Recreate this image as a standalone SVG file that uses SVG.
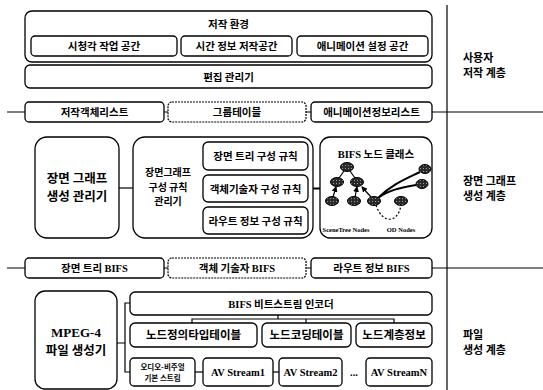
<svg xmlns="http://www.w3.org/2000/svg" width="543" height="390" viewBox="0 0 543 390">
<style>
  .b{fill:#fff;stroke:#000;stroke-width:1.3}
  .d{fill:#fff;stroke:#000;stroke-width:1.2;stroke-dasharray:2 1}
  .l{fill:none;stroke:#000;stroke-width:1.2}
  .k{font-family:"Noto Sans CJK KR","Noto Sans",sans-serif;font-weight:700;fill:#000;text-anchor:middle}
  .s{font-size:10.5px}
  .m{font-size:12.5px}
  .r{font-family:"Noto Sans CJK KR","Noto Sans",sans-serif;font-weight:700;font-size:11px;fill:#000}
  .e{font-family:"Liberation Serif",serif;font-weight:700}
  .n{fill:url(#hatch);stroke:#000;stroke-width:1}
</style>
<defs>
  <pattern id="hatch" width="3" height="3" patternUnits="userSpaceOnUse">
    <rect width="3" height="3" fill="#2a2a2a"/>
    <rect width="1" height="1" fill="#999"/>
  </pattern>
  <marker id="ar" viewBox="0 0 6 6" refX="5" refY="3" markerWidth="5" markerHeight="5" orient="auto">
    <path d="M0,0 L6,3 L0,6 z" fill="#000"/>
  </marker>
</defs>
<rect width="543" height="390" fill="#fff"/>

<g id="connectors">
  <line class="l" x1="447" y1="5" x2="447" y2="390"/>
  <line class="l" x1="7" y1="112" x2="543" y2="112"/>
  <line class="l" x1="7" y1="268" x2="543" y2="268"/>
  <line class="l" x1="119" y1="188" x2="133" y2="188"/>
  <path class="l" d="M308,156 H312 V221 H308 M308,188.5 H320" style="stroke-width:1.8"/>
  <path class="l" d="M117,343 H125 M130,303 H125 V372 H130"/>
  <path class="l" d="M278,315 V319 M192,323 V319 H394 V323 M306,319 V323"/>
  <line class="l" x1="195" y1="372" x2="203" y2="372"/>
  <line class="l" x1="273" y1="372" x2="279" y2="372"/>
</g>

<g id="authoring-env">
  <rect class="b" x="25" y="11" width="407" height="51" rx="7"/>
  <text class="k s" x="228.5" y="28">저작 환경</text>
</g>
<g id="av-workspace"><rect class="b" x="31" y="36" width="146" height="20" rx="4"/><text class="k s" x="104" y="50">시청각 작업 공간</text></g>
<g id="time-workspace"><rect class="b" x="181" y="36" width="111" height="20" rx="4"/><text class="k s" x="236.5" y="50">시간 정보 저작공간</text></g>
<g id="anim-workspace"><rect class="b" x="297" y="36" width="131" height="20" rx="4"/><text class="k s" x="362.5" y="50">애니메이션 설정 공간</text></g>
<g id="edit-manager"><rect class="b" x="25" y="65" width="407" height="23" rx="5"/><text class="k s" x="228.5" y="80.5">편집 관리기</text></g>

<g id="object-list"><rect class="b" x="25" y="102" width="139" height="20" rx="4"/><text class="k s" x="94.5" y="116">저작객체리스트</text></g>
<g id="group-table"><rect class="d" x="168" y="102" width="138" height="20" rx="4"/><text class="k s" x="237" y="116">그룹테이블</text></g>
<g id="anim-list"><rect class="b" x="311" y="102" width="121" height="20" rx="4"/><text class="k s" x="371.5" y="116">애니메이션정보리스트</text></g>

<g id="scene-graph-manager">
  <rect class="b" x="35" y="137" width="84" height="101" rx="12"/>
  <text class="k m" x="77" y="183">장면 그래프</text>
  <text class="k m" x="77" y="201">생성 관리기</text>
</g>
<g id="rule-manager">
  <rect class="b" x="133" y="137" width="180" height="101" rx="12"/>
  <text class="k" x="168" y="176" style="font-size:10px">장면그래프</text>
  <text class="k" x="168" y="190.5" style="font-size:10px">구성 규칙</text>
  <text class="k" x="168" y="205" style="font-size:10px">관리기</text>
</g>
<g id="rule-tree"><rect class="b" x="203" y="142" width="105" height="28" rx="5"/><text class="k s" x="255.5" y="160">장면 트리 구성 규칙</text></g>
<g id="rule-od"><rect class="b" x="203" y="175" width="105" height="27" rx="5"/><text class="k s" x="255.5" y="192.5">객체기술자 구성 규칙</text></g>
<g id="rule-route"><rect class="b" x="203" y="207" width="105" height="27" rx="5"/><text class="k s" x="255.5" y="224.5">라우트 정보 구성 규칙</text></g>

<g id="bifs-node-class">
  <rect class="b" x="320" y="137" width="112" height="101" rx="10"/>
  <text class="k" x="376" y="158" style="font-size:10.5px"><tspan class="e">BIFS</tspan> 노드 클래스</text>
  <path class="l" d="M344,171 L339,178 M350,171 L355,178"/>
  <line class="l" x1="333" y1="197" x2="336" y2="187" marker-end="url(#ar)"/>
  <line class="l" x1="355" y1="197" x2="357" y2="187" marker-end="url(#ar)"/>
  <line class="l" x1="371" y1="197" x2="362" y2="187" marker-end="url(#ar)"/>
  <path class="l" d="M378,198 C390,189 405,187 416,185 M378,198 C392,184 408,178 420,172" style="stroke-width:2"/>
  <path class="l" d="M376,205 C382,224 398,224 401,205" stroke-dasharray="2 2"/>
  <ellipse class="n" cx="347" cy="167" rx="6.5" ry="4.5"/>
  <ellipse class="n" cx="337" cy="182" rx="6.5" ry="4.5"/>
  <ellipse class="n" cx="357" cy="182" rx="6.5" ry="4.5"/>
  <ellipse class="n" cx="332" cy="201" rx="6.5" ry="4.5"/>
  <ellipse class="n" cx="354" cy="201" rx="6.5" ry="4.5"/>
  <ellipse class="n" cx="374" cy="201" rx="6.5" ry="4.5"/>
  <ellipse class="n" cx="401" cy="201" rx="6.5" ry="4.5"/>
  <ellipse class="n" cx="425" cy="169" rx="6" ry="4.5"/>
  <ellipse class="n" cx="422" cy="184" rx="6" ry="4.5"/>
  <text class="e" x="346" y="232" text-anchor="middle" style="font-size:6.5px">SceneTree Nodes</text>
  <text class="e" x="401" y="232" text-anchor="middle" style="font-size:6.5px">OD Nodes</text>
</g>

<g id="scene-tree-bifs"><rect class="b" x="25" y="258" width="139" height="20" rx="4"/><text class="k s" x="94.5" y="272">장면 트리 <tspan class="e">BIFS</tspan></text></g>
<g id="od-bifs"><rect class="d" x="168" y="258" width="138" height="20" rx="4"/><text class="k s" x="237" y="272">객체 기술자 <tspan class="e">BIFS</tspan></text></g>
<g id="route-bifs"><rect class="b" x="311" y="258" width="121" height="20" rx="4"/><text class="k s" x="371.5" y="272">라우트 정보 <tspan class="e">BIFS</tspan></text></g>

<g id="mpeg4-generator">
  <rect class="b" x="35" y="291" width="82" height="98" rx="10"/>
  <text class="e" x="76" y="337" text-anchor="middle" style="font-size:13px">MPEG-4</text>
  <text class="k m" x="76" y="355">파일 생성기</text>
</g>
<g id="bifs-encoder"><rect class="b" x="130" y="292" width="302" height="23" rx="5"/><text class="k s" x="281" y="307.5"><tspan class="e">BIFS</tspan> 비트스트림 인코더</text></g>
<g id="node-def-table"><rect class="b" x="130" y="323" width="127" height="24" rx="5"/><text class="k" x="193.5" y="339" style="font-size:11.5px">노드정의타입테이블</text></g>
<g id="node-coding-table"><rect class="b" x="262" y="323" width="89" height="24" rx="5"/><text class="k" x="306.5" y="339" style="font-size:11.5px">노드코딩테이블</text></g>
<g id="node-hierarchy"><rect class="b" x="356" y="323" width="76" height="24" rx="5"/><text class="k" x="394" y="339" style="font-size:11.5px">노드계층정보</text></g>
<g id="av-es"><rect class="b" x="130" y="358" width="65" height="28" rx="4"/><text class="k" x="162.5" y="369.5" style="font-size:7.5px">오디오-비주얼</text><text class="k" x="162.5" y="380.5" style="font-size:7.5px">기본 스트림</text></g>
<g id="av-stream1"><rect class="b" x="203" y="358" width="70" height="28" rx="4"/><text class="e" x="238" y="375.5" text-anchor="middle" style="font-size:10.5px">AV Stream1</text></g>
<g id="av-stream2"><rect class="b" x="279" y="358" width="63" height="28" rx="4"/><text class="e" x="310.5" y="375.5" text-anchor="middle" style="font-size:10.5px">AV Stream2</text></g>
<text class="e" x="354" y="375.5" text-anchor="middle" style="font-size:10.5px">...</text>
<g id="av-streamN"><rect class="b" x="366" y="358" width="66" height="28" rx="4"/><text class="e" x="399" y="375.5" text-anchor="middle" style="font-size:10.5px">AV StreamN</text></g>

<g id="layer-labels">
  <text class="r" x="463" y="62">사용자</text>
  <text class="r" x="463" y="77">저작 계층</text>
  <text class="r" x="463" y="185">장면 그래프</text>
  <text class="r" x="463" y="200">생성 계층</text>
  <text class="r" x="463" y="339">파일</text>
  <text class="r" x="463" y="354">생성 계층</text>
</g>
</svg>
